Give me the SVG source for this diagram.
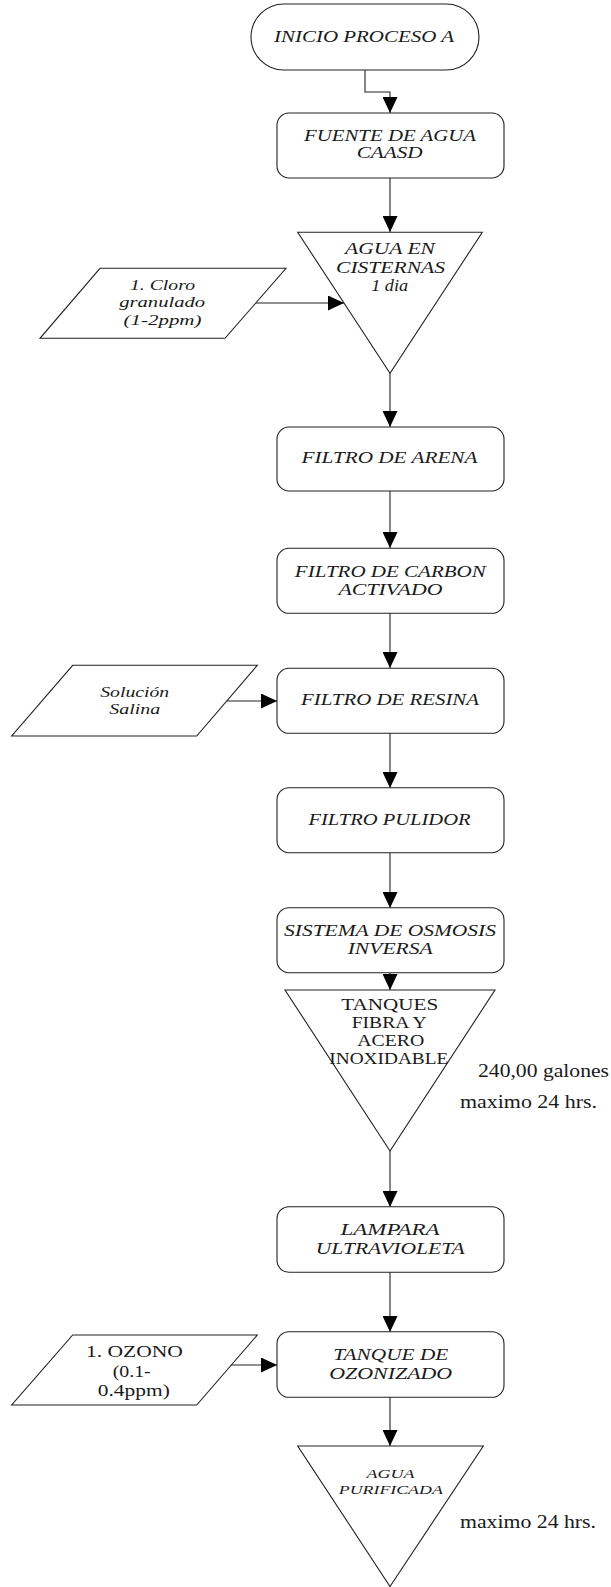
<svg xmlns="http://www.w3.org/2000/svg" width="611" height="1587" viewBox="0 0 611 1587">
<style>
.shape{fill:#fff;stroke:#222;stroke-width:1.1}
.conn{fill:none;stroke:#222;stroke-width:1.1}
text{font-family:"Liberation Serif","DejaVu Serif",serif;fill:#1a1a1a;text-anchor:middle}
.it{font-style:italic;font-size:17px}
.pi{font-style:italic;font-size:15.5px}
.rg{font-size:17.5px}
.oz{font-size:16.5px}
.sm{font-style:italic;font-size:12px}
.note{font-size:18px;text-anchor:start}
</style>
<defs>
<marker id="arr" markerUnits="userSpaceOnUse" markerWidth="16" markerHeight="15" viewBox="0 0 16 15" refX="16" refY="7.5" orient="auto">
<path d="M0,0 L16,7.5 L0,15 z" fill="#000"/>
</marker>
</defs>
<rect width="611" height="1587" fill="#fff"/>

<g id="connectors">
<polyline class="conn" points="365,70 365,92 390,92 390,113" marker-end="url(#arr)"/>
<line class="conn" x1="390" y1="178" x2="390" y2="232" marker-end="url(#arr)"/>
<line class="conn" x1="255.5" y1="303" x2="344" y2="303" marker-end="url(#arr)"/>
<line class="conn" x1="390" y1="373" x2="390" y2="427" marker-end="url(#arr)"/>
<line class="conn" x1="390" y1="491" x2="390" y2="548" marker-end="url(#arr)"/>
<line class="conn" x1="390" y1="613" x2="390" y2="668" marker-end="url(#arr)"/>
<line class="conn" x1="227" y1="701" x2="277" y2="701" marker-end="url(#arr)"/>
<line class="conn" x1="390" y1="733" x2="390" y2="788" marker-end="url(#arr)"/>
<line class="conn" x1="390" y1="853" x2="390" y2="908" marker-end="url(#arr)"/>
<line class="conn" x1="390" y1="973" x2="390" y2="990" marker-end="url(#arr)"/>
<line class="conn" x1="390" y1="1151" x2="390" y2="1207" marker-end="url(#arr)"/>
<line class="conn" x1="390" y1="1272" x2="390" y2="1332" marker-end="url(#arr)"/>
<line class="conn" x1="227" y1="1365" x2="277" y2="1365" marker-end="url(#arr)"/>
<line class="conn" x1="390" y1="1397" x2="390" y2="1446" marker-end="url(#arr)"/>
</g>

<g id="inicio">
<rect class="shape" x="251" y="4" width="228" height="66" rx="33" ry="33"/>
<text class="it" x="364" y="42.3" textLength="180" lengthAdjust="spacingAndGlyphs">INICIO PROCESO A</text>
</g>

<g id="fuente">
<rect class="shape" x="277" y="113" width="227" height="65" rx="12" ry="12"/>
<text class="it" x="390" y="140.7" textLength="172" lengthAdjust="spacingAndGlyphs">FUENTE DE AGUA</text>
<text class="it" x="389.7" y="158.3" textLength="66" lengthAdjust="spacingAndGlyphs">CAASD</text>
</g>

<g id="cisternas">
<polygon class="shape" points="297.7,232.3 482.3,232.3 390,373.3"/>
<text class="it" x="390" y="254.3" textLength="90" lengthAdjust="spacingAndGlyphs">AGUA EN</text>
<text class="it" x="390.5" y="272.7" textLength="109" lengthAdjust="spacingAndGlyphs">CISTERNAS</text>
<text class="it" x="389.7" y="290.7" textLength="37" lengthAdjust="spacingAndGlyphs">1 dia</text>
</g>

<g id="cloro">
<polygon class="shape" points="100,268.3 286,268.3 225,338.3 40,338.3"/>
<text class="pi" x="162.5" y="290" textLength="65" lengthAdjust="spacingAndGlyphs">1. Cloro</text>
<text class="pi" x="162.2" y="307.3" textLength="86" lengthAdjust="spacingAndGlyphs">granulado</text>
<text class="pi" x="162.5" y="325" textLength="78" lengthAdjust="spacingAndGlyphs">(1-2ppm)</text>
</g>

<g id="arena">
<rect class="shape" x="277" y="427" width="227" height="64" rx="12" ry="12"/>
<text class="it" x="389.5" y="463.3" textLength="176" lengthAdjust="spacingAndGlyphs">FILTRO DE ARENA</text>
</g>

<g id="carbon">
<rect class="shape" x="277" y="548.3" width="227" height="65" rx="12" ry="12"/>
<text class="it" x="390.3" y="576.7" textLength="191" lengthAdjust="spacingAndGlyphs">FILTRO DE CARBON</text>
<text class="it" x="390.5" y="595" textLength="104" lengthAdjust="spacingAndGlyphs">ACTIVADO</text>
</g>

<g id="resina">
<rect class="shape" x="277" y="668.3" width="227" height="65" rx="12" ry="12"/>
<text class="it" x="390" y="705" textLength="178" lengthAdjust="spacingAndGlyphs">FILTRO DE RESINA</text>
</g>

<g id="solucion">
<polygon class="shape" points="72.7,665.3 257.3,665.3 196.7,736 11.7,736"/>
<text class="pi" x="134.7" y="696.7" textLength="69" lengthAdjust="spacingAndGlyphs">Solución</text>
<text class="pi" x="134.7" y="714.3" textLength="51" lengthAdjust="spacingAndGlyphs">Salina</text>
</g>

<g id="pulidor">
<rect class="shape" x="277" y="787.7" width="227" height="65" rx="12" ry="12"/>
<text class="it" x="389.5" y="825" textLength="162" lengthAdjust="spacingAndGlyphs">FILTRO PULIDOR</text>
</g>

<g id="osmosis">
<rect class="shape" x="277" y="907.7" width="227" height="65" rx="12" ry="12"/>
<text class="it" x="390" y="936" textLength="212" lengthAdjust="spacingAndGlyphs">SISTEMA DE OSMOSIS</text>
<text class="it" x="390.2" y="954" textLength="85" lengthAdjust="spacingAndGlyphs">INVERSA</text>
</g>

<g id="tanques">
<polygon class="shape" points="285,990 495,990 390,1151"/>
<text class="rg" x="389.7" y="1009.5" textLength="97" lengthAdjust="spacingAndGlyphs">TANQUES</text>
<text class="rg" x="389.2" y="1027.7" textLength="75" lengthAdjust="spacingAndGlyphs">FIBRA Y</text>
<text class="rg" x="390.7" y="1046" textLength="67" lengthAdjust="spacingAndGlyphs">ACERO</text>
<text class="rg" x="388.8" y="1064" textLength="119" lengthAdjust="spacingAndGlyphs">INOXIDABLE</text>
</g>

<g id="notes-tanques">
<text class="note" x="478" y="1076.7" textLength="131" lengthAdjust="spacingAndGlyphs">240,00 galones</text>
<text class="note" x="460" y="1108.3" textLength="137" lengthAdjust="spacingAndGlyphs">maximo 24 hrs.</text>
</g>

<g id="lampara">
<rect class="shape" x="277" y="1206.7" width="227" height="65.6" rx="12" ry="12"/>
<text class="it" x="390" y="1235" textLength="99" lengthAdjust="spacingAndGlyphs">LAMPARA</text>
<text class="it" x="390.3" y="1254" textLength="149" lengthAdjust="spacingAndGlyphs">ULTRAVIOLETA</text>
</g>

<g id="ozonizado">
<rect class="shape" x="277" y="1331.7" width="227" height="65.6" rx="12" ry="12"/>
<text class="it" x="390.8" y="1360" textLength="115" lengthAdjust="spacingAndGlyphs">TANQUE DE</text>
<text class="it" x="390.7" y="1379" textLength="123" lengthAdjust="spacingAndGlyphs">OZONIZADO</text>
</g>

<g id="ozono">
<polygon class="shape" points="72.7,1335 257.3,1335 196.7,1405 11.7,1405"/>
<text class="oz" x="134.4" y="1357.3" textLength="97" lengthAdjust="spacingAndGlyphs">1. OZONO</text>
<text class="oz" x="131.7" y="1376.7" textLength="38" lengthAdjust="spacingAndGlyphs">(0.1-</text>
<text class="oz" x="133.8" y="1396" textLength="72" lengthAdjust="spacingAndGlyphs">0.4ppm)</text>
</g>

<g id="purificada">
<polygon class="shape" points="297.7,1446 483.3,1446 390,1586.5"/>
<text class="sm" x="390.5" y="1478.3" textLength="48" lengthAdjust="spacingAndGlyphs">AGUA</text>
<text class="sm" x="390.8" y="1494" textLength="104" lengthAdjust="spacingAndGlyphs">PURIFICADA</text>
</g>

<g id="notes-purificada">
<text class="note" x="460" y="1528.3" textLength="136" lengthAdjust="spacingAndGlyphs">maximo 24 hrs.</text>
</g>
</svg>
